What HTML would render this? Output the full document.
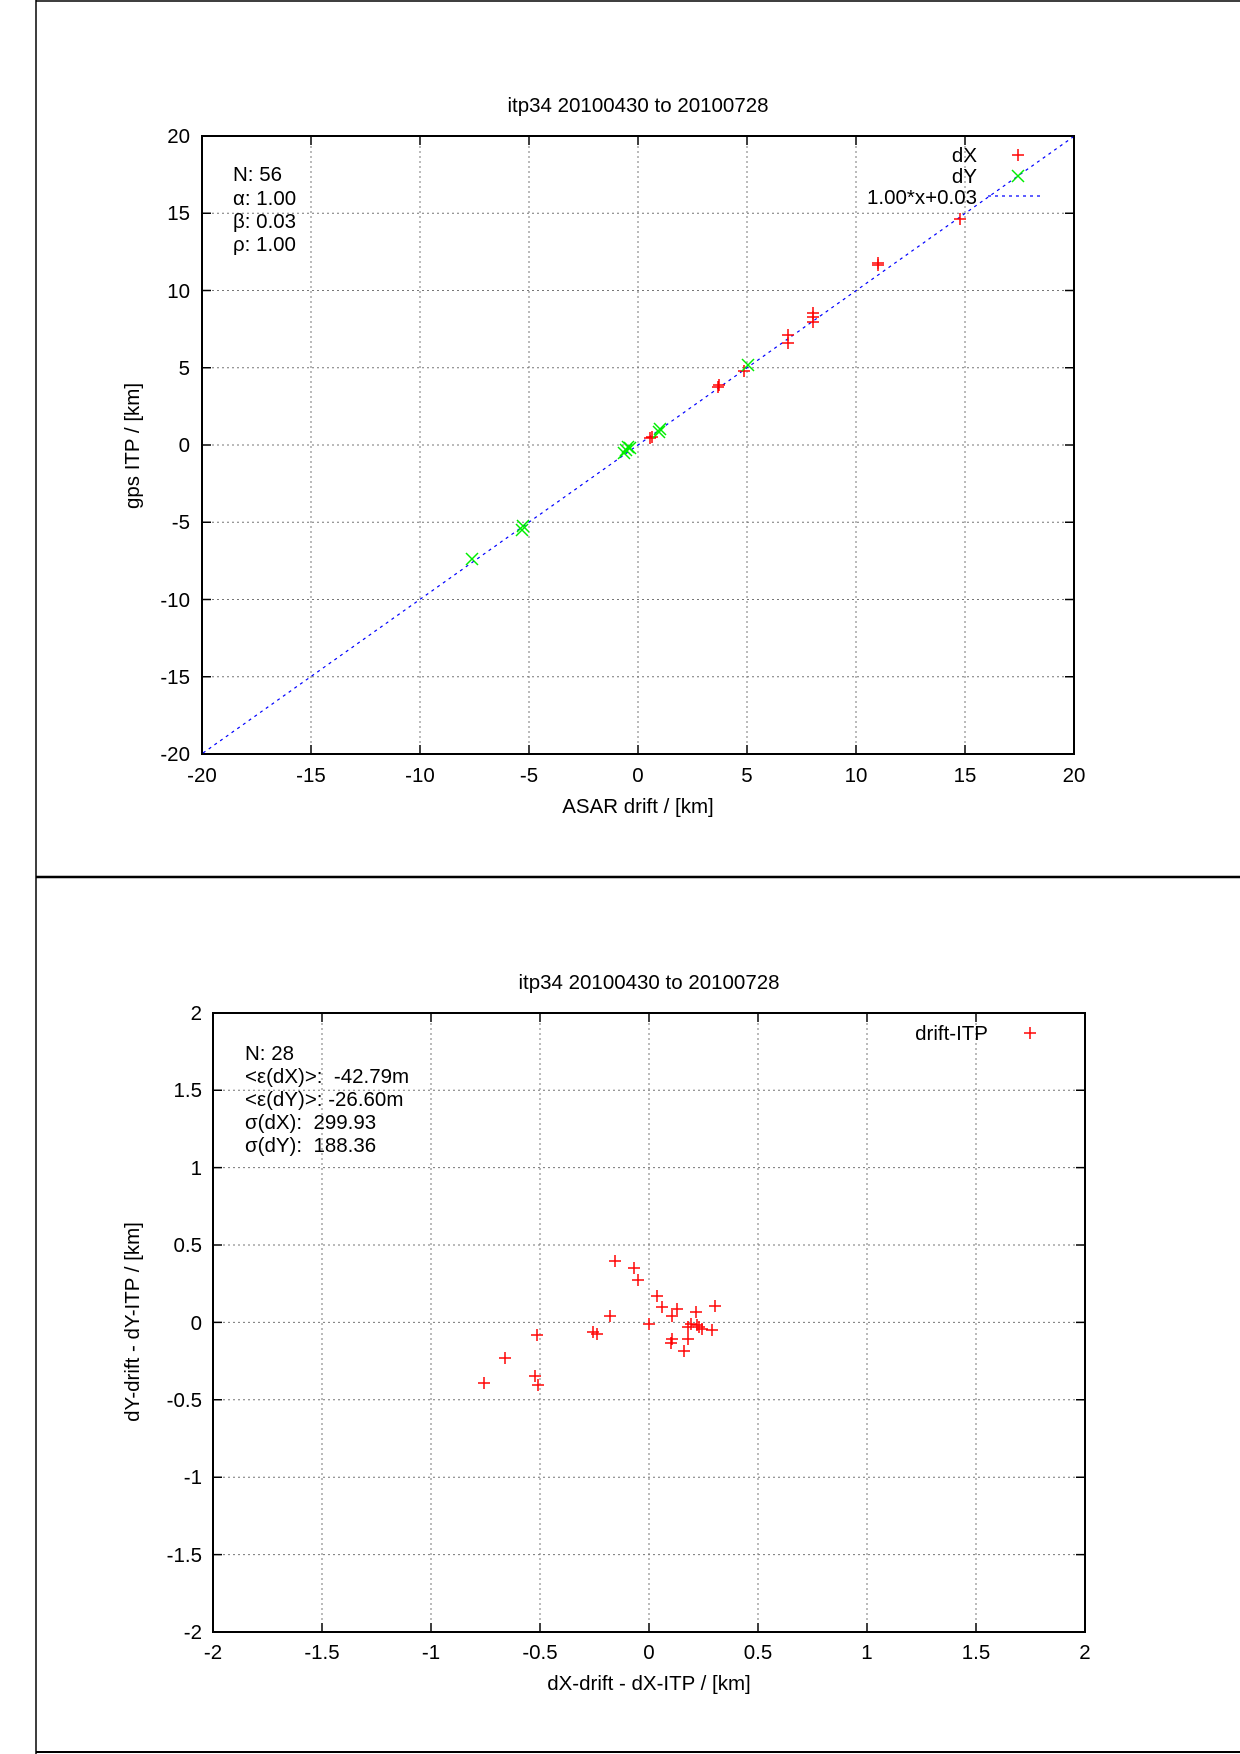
<!DOCTYPE html>
<html><head><meta charset="utf-8"><style>
html,body{margin:0;padding:0;background:#fff}
svg{display:block}
text{font-family:"Liberation Sans",Arial,sans-serif;font-size:20.5px;fill:#000;white-space:pre}
</style></head><body>
<svg width="1240" height="1754" viewBox="0 0 1240 1754" xmlns="http://www.w3.org/2000/svg" xml:space="preserve">
<defs>
<g id="p"><path d="M-6 0H6M0 -6V6" stroke="#f00" stroke-width="1.5"/></g>
<g id="x"><path d="M-6 -6L6 6M-6 6L6 -6" stroke="#0e0" stroke-width="1.5"/></g>
</defs>
<rect width="1240" height="1754" fill="#fff"/>
<line x1="36" y1="0" x2="36" y2="1754" stroke="#000" stroke-width="1.5"/>
<line x1="36" y1="1" x2="1240" y2="1" stroke="#000" stroke-width="1.5"/>
<line x1="36" y1="877" x2="1240" y2="877" stroke="#000" stroke-width="2.5"/>
<line x1="36" y1="1752" x2="1240" y2="1752" stroke="#000" stroke-width="2"/>

<g stroke="#777" stroke-width="1" stroke-dasharray="2,3">
<line x1="311" y1="136" x2="311" y2="754"/><line x1="420" y1="136" x2="420" y2="754"/><line x1="529" y1="136" x2="529" y2="754"/><line x1="638" y1="136" x2="638" y2="754"/><line x1="747" y1="136" x2="747" y2="754"/><line x1="856" y1="136" x2="856" y2="754"/><line x1="965" y1="136" x2="965" y2="754"/>
<line x1="202" y1="676.75" x2="1074" y2="676.75"/><line x1="202" y1="599.5" x2="1074" y2="599.5"/><line x1="202" y1="522.25" x2="1074" y2="522.25"/><line x1="202" y1="445" x2="1074" y2="445"/><line x1="202" y1="367.75" x2="1074" y2="367.75"/><line x1="202" y1="290.5" x2="1074" y2="290.5"/><line x1="202" y1="213.25" x2="1074" y2="213.25"/>
</g>
<g stroke="#000" stroke-width="1.5">
<path d="M311 754v-9M420 754v-9M529 754v-9M638 754v-9M747 754v-9M856 754v-9M965 754v-9M311 136v9M420 136v9M529 136v9M638 136v9M747 136v9M856 136v9M965 136v9"/>
<path d="M202 676.75h9M202 599.5h9M202 522.25h9M202 445h9M202 367.75h9M202 290.5h9M202 213.25h9M1074 676.75h-9M1074 599.5h-9M1074 522.25h-9M1074 445h-9M1074 367.75h-9M1074 290.5h-9M1074 213.25h-9"/>
</g>
<rect x="202" y="136" width="872" height="618" fill="none" stroke="#000" stroke-width="2"/>
<line x1="203" y1="753" x2="1073" y2="137" stroke="#00f" stroke-width="1.2" stroke-dasharray="3,4"/>
<line x1="988" y1="196" x2="1044" y2="196" stroke="#00f" stroke-width="1.2" stroke-dasharray="3,4"/>
<use href="#p" x="878" y="263"/><use href="#p" x="878" y="265"/><use href="#p" x="960" y="219"/>
<use href="#p" x="813" y="313"/><use href="#p" x="813" y="317"/><use href="#p" x="813" y="322"/>
<use href="#p" x="788" y="335"/><use href="#p" x="788" y="343"/>
<use href="#p" x="718" y="387"/><use href="#p" x="719" y="385"/><use href="#p" x="744" y="371"/>
<use href="#p" x="650" y="438"/><use href="#p" x="652" y="437"/>
<use href="#x" x="748" y="365"/><use href="#x" x="659" y="432"/><use href="#x" x="660" y="429"/>
<use href="#x" x="628" y="447"/><use href="#x" x="624" y="453"/><use href="#x" x="630" y="448"/><use href="#x" x="626" y="450"/>
<use href="#x" x="523" y="526"/><use href="#x" x="522" y="530"/><use href="#x" x="472" y="559"/>
<use href="#p" x="1018" y="155"/><use href="#x" x="1018" y="176"/>
<g text-anchor="end">
<text x="977" y="162">dX</text><text x="977" y="183">dY</text><text x="977" y="204">1.00*x+0.03</text>
</g>
<text x="638" y="112" text-anchor="middle">itp34 20100430 to 20100728</text>
<g text-anchor="end">
<text x="190" y="143">20</text><text x="190" y="220">15</text><text x="190" y="298">10</text><text x="190" y="375">5</text><text x="190" y="452">0</text><text x="190" y="529">-5</text><text x="190" y="607">-10</text><text x="190" y="684">-15</text><text x="190" y="761">-20</text>
</g>
<g text-anchor="middle">
<text x="202" y="782">-20</text><text x="311" y="782">-15</text><text x="420" y="782">-10</text><text x="529" y="782">-5</text><text x="638" y="782">0</text><text x="747" y="782">5</text><text x="856" y="782">10</text><text x="965" y="782">15</text><text x="1074" y="782">20</text>
<text x="638" y="813">ASAR drift / [km]</text>
<text transform="translate(139,446) rotate(-90)">gps ITP / [km]</text>
</g>
<text x="233" y="181">N: 56</text><text x="233" y="205">α: 1.00</text><text x="233" y="228">β: 0.03</text><text x="233" y="251">ρ: 1.00</text>

<g stroke="#777" stroke-width="1" stroke-dasharray="2,3">
<line x1="322" y1="1013" x2="322" y2="1632"/><line x1="431" y1="1013" x2="431" y2="1632"/><line x1="540" y1="1013" x2="540" y2="1632"/><line x1="649" y1="1013" x2="649" y2="1632"/><line x1="758" y1="1013" x2="758" y2="1632"/><line x1="867" y1="1013" x2="867" y2="1632"/><line x1="976" y1="1013" x2="976" y2="1632"/>
<line x1="213" y1="1554.6" x2="1085" y2="1554.6"/><line x1="213" y1="1477.2" x2="1085" y2="1477.2"/><line x1="213" y1="1399.8" x2="1085" y2="1399.8"/><line x1="213" y1="1322.4" x2="1085" y2="1322.4"/><line x1="213" y1="1245" x2="1085" y2="1245"/><line x1="213" y1="1167.6" x2="1085" y2="1167.6"/><line x1="213" y1="1090.2" x2="1085" y2="1090.2"/>
</g>
<g stroke="#000" stroke-width="1.5">
<path d="M322 1632v-9M431 1632v-9M540 1632v-9M649 1632v-9M758 1632v-9M867 1632v-9M976 1632v-9M322 1013v9M431 1013v9M540 1013v9M649 1013v9M758 1013v9M867 1013v9M976 1013v9"/>
<path d="M213 1554.6h9M213 1477.2h9M213 1399.8h9M213 1322.4h9M213 1245h9M213 1167.6h9M213 1090.2h9M1085 1554.6h-9M1085 1477.2h-9M1085 1399.8h-9M1085 1322.4h-9M1085 1245h-9M1085 1167.6h-9M1085 1090.2h-9"/>
</g>
<rect x="213" y="1013" width="872" height="619" fill="none" stroke="#000" stroke-width="2"/>
<use href="#p" x="615" y="1261"/><use href="#p" x="634" y="1268"/><use href="#p" x="638" y="1280"/><use href="#p" x="657" y="1296"/>
<use href="#p" x="662" y="1307"/><use href="#p" x="677" y="1309"/><use href="#p" x="672" y="1316"/><use href="#p" x="696" y="1312"/>
<use href="#p" x="715" y="1306"/><use href="#p" x="610" y="1316"/><use href="#p" x="649" y="1324"/><use href="#p" x="688" y="1327"/>
<use href="#p" x="691" y="1324"/><use href="#p" x="697" y="1325"/><use href="#p" x="699" y="1327"/><use href="#p" x="702" y="1329"/>
<use href="#p" x="712" y="1330"/><use href="#p" x="593" y="1332"/><use href="#p" x="597" y="1334"/><use href="#p" x="537" y="1335"/>
<use href="#p" x="672" y="1339"/><use href="#p" x="671" y="1343"/><use href="#p" x="688" y="1339"/><use href="#p" x="684" y="1351"/>
<use href="#p" x="505" y="1358"/><use href="#p" x="535" y="1376"/><use href="#p" x="538" y="1385"/><use href="#p" x="484" y="1383"/>
<use href="#p" x="1030" y="1033"/>
<text x="988" y="1040" text-anchor="end">drift-ITP</text>
<text x="649" y="989" text-anchor="middle">itp34 20100430 to 20100728</text>
<g text-anchor="end">
<text x="202" y="1020">2</text><text x="202" y="1097">1.5</text><text x="202" y="1175">1</text><text x="202" y="1252">0.5</text><text x="202" y="1330">0</text><text x="202" y="1407">-0.5</text><text x="202" y="1484">-1</text><text x="202" y="1562">-1.5</text><text x="202" y="1639">-2</text>
</g>
<g text-anchor="middle">
<text x="213" y="1659">-2</text><text x="322" y="1659">-1.5</text><text x="431" y="1659">-1</text><text x="540" y="1659">-0.5</text><text x="649" y="1659">0</text><text x="758" y="1659">0.5</text><text x="867" y="1659">1</text><text x="976" y="1659">1.5</text><text x="1085" y="1659">2</text>
<text x="649" y="1690">dX-drift - dX-ITP / [km]</text>
<text transform="translate(139,1322) rotate(-90)">dY-drift - dY-ITP / [km]</text>
</g>
<text x="245" y="1060">N: 28</text><text x="245" y="1083">&lt;ε(dX)&gt;:  -42.79m</text><text x="245" y="1106">&lt;ε(dY)&gt;: -26.60m</text><text x="245" y="1129">σ(dX):  299.93</text><text x="245" y="1152">σ(dY):  188.36</text>
</svg>
</body></html>
